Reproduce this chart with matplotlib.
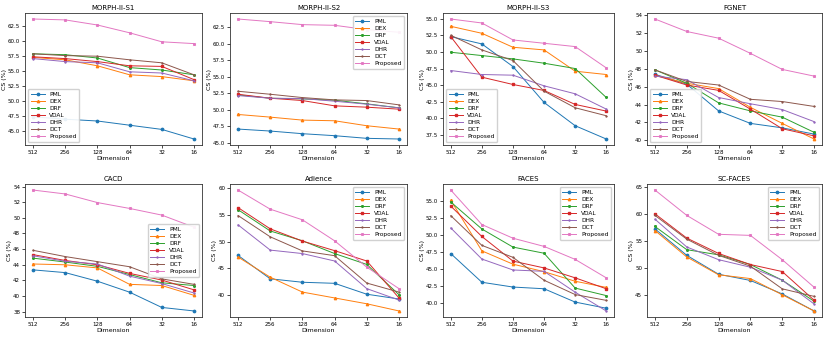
import numpy as np
import matplotlib
matplotlib.use('Agg')
import matplotlib.pyplot as plt

dims = ['512', '256', '128', '64', '32', '16']
methods = ['PML', 'DEX', 'DRF', 'VDAL', 'DHR', 'DCT', 'Proposed']
titles = ['MORPH-II-S1', 'MORPH-II-S2', 'MORPH-II-S3', 'FGNET',
          'CACD', 'Adience', 'FACES', 'SC-FACES']

# CS (%) per dataset, one row per method in the order of `methods`
morph_s1 = [[47.3, 46.9, 46.6, 45.9, 45.2, 43.6],
            [57.2, 56.8, 55.8, 54.3, 54.0, 53.3],
            [57.8, 57.65, 57.1, 55.5, 55.1, 54.3],
            [57.3, 57.0, 56.5, 55.8, 55.7, 53.5],
            [57.0, 56.5, 56.3, 54.8, 54.6, 53.3],
            [57.8, 57.5, 57.4, 56.8, 56.3, 54.3],
            [63.6, 63.45, 62.6, 61.3, 59.8, 59.5]]
morph_s2 = [[47.1, 46.8, 46.4, 46.1, 45.7, 45.6],
            [49.3, 48.9, 48.45, 48.35, 47.6, 47.1],
            [52.25, 51.75, 51.65, 51.45, 50.9, 50.3],
            [52.35, 51.75, 51.4, 50.6, 50.4, 50.1],
            [52.15, 51.75, 51.7, 51.3, 50.85, 50.3],
            [52.8, 52.35, 51.85, 51.5, 51.4, 50.75],
            [63.7, 63.3, 62.85, 62.75, 62.1, 61.7]]
morph_s3 = [[52.3, 51.2, 47.8, 42.4, 38.9, 36.9],
            [53.85, 52.8, 50.7, 50.3, 47.1, 46.6],
            [49.95, 49.45, 48.95, 48.3, 47.5, 43.15],
            [52.3, 46.2, 45.1, 44.2, 42.1, 41.1],
            [47.2, 46.6, 46.5, 44.9, 43.7, 41.4],
            [52.5, 50.3, 48.7, 44.1, 41.6, 40.4],
            [54.95, 54.35, 51.8, 51.3, 50.8, 47.6]]
fgnet = [[47.4, 46.3, 43.3, 41.9, 41.4, 40.7],
         [47.3, 46.4, 45.8, 43.7, 41.9, 40.15],
         [47.9, 46.4, 44.2, 43.3, 42.6, 40.9],
         [47.3, 46.2, 45.6, 43.5, 41.3, 40.5],
         [47.2, 46.8, 44.8, 44.1, 43.45, 42.1],
         [47.9, 46.6, 46.2, 44.6, 44.35, 43.8],
         [53.6, 52.2, 51.45, 49.75, 47.95, 47.2]]
cacd = [[43.35, 43.0, 41.9, 40.5, 38.55, 38.1],
        [44.1, 44.0, 43.6, 41.5, 41.35, 40.1],
        [44.85, 44.35, 43.8, 42.75, 41.7, 41.35],
        [45.3, 44.55, 44.0, 42.9, 42.05, 40.8],
        [45.15, 44.45, 44.1, 42.55, 41.6, 40.4],
        [45.85, 45.05, 44.4, 43.75, 42.2, 41.5],
        [53.55, 53.05, 51.95, 51.2, 50.35, 48.8]]
adience = [[47.4, 43.0, 42.35, 42.15, 40.1, 39.2],
           [47.1, 43.3, 40.5, 39.4, 38.3, 36.95],
           [56.0, 52.0, 50.15, 47.75, 45.7, 40.0],
           [56.4, 52.4, 50.1, 48.3, 46.35, 39.4],
           [53.15, 48.4, 47.75, 46.35, 41.15, 39.0],
           [54.9, 50.9, 48.25, 47.35, 42.2, 40.5],
           [59.7, 56.1, 54.1, 50.15, 45.2, 41.15]]
faces = [[47.25, 43.05, 42.35, 42.1, 40.15, 39.25],
         [55.05, 47.65, 45.7, 44.6, 43.2, 42.3],
         [54.8, 50.85, 48.2, 47.3, 42.2, 41.1],
         [54.2, 49.75, 46.15, 45.15, 43.7, 42.1],
         [51.0, 46.45, 44.85, 44.65, 41.6, 38.85],
         [52.8, 48.45, 46.7, 43.35, 41.25, 40.4],
         [56.55, 51.5, 49.5, 48.3, 46.4, 43.7]]
sc_faces = [[57.3, 52.4, 48.9, 47.75, 45.25, 42.1],
            [57.0, 52.1, 48.8, 48.1, 45.1, 42.1],
            [57.75, 53.45, 52.5, 50.7, 47.8, 43.9],
            [60.1, 55.6, 52.75, 50.7, 49.4, 44.1],
            [59.1, 53.95, 51.6, 50.2, 47.8, 43.4],
            [59.8, 55.4, 52.4, 50.4, 46.2, 44.8],
            [64.5, 59.8, 56.3, 56.1, 51.6, 46.5]]

all_data = [morph_s1, morph_s2, morph_s3, fgnet, cacd, adience, faces, sc_faces]

colors = ['#1f77b4', '#ff7f0e', '#2ca02c', '#d62728', '#9467bd', '#8c564b', '#e377c2']
markers = ['o', '^', '*', 's', '+', '4', 'x']
yticks = [np.arange(45, 63, 2.5), np.arange(45, 63, 2.5), np.arange(37.5, 55.1, 2.5),
          np.arange(40, 55, 2), np.arange(38, 55, 2), np.arange(40, 61, 5),
          np.arange(40, 55.1, 2.5), np.arange(45, 66, 5)]
legend_loc = ['lower left', 'upper right', 'lower left', 'lower left',
              'center right', 'upper right', 'upper right', 'upper right']

W, H = 830.0, 342.0
# axes boxes in pixels: left, right
cols = [(25, 202), (230, 407), (443, 614), (647, 822)]
rows = [(13, 145), (184, 317)]

fig = plt.figure(figsize=(8.3, 3.42), dpi=100)
x = np.arange(len(dims))
for k in range(8):
    r, c = k // 4, k % 4
    l, rr = cols[c]
    t, b = rows[r]
    ax = fig.add_axes([l / W, 1 - b / H, (rr - l) / W, (b - t) / H])
    for i in range(len(methods)):
        ax.plot(x, all_data[k][i], color=colors[i], marker=markers[i],
                markersize=1.7, linewidth=0.7, label=methods[i])
    ax.set_xticks(x)
    ax.set_xticklabels(dims)
    ax.set_yticks(yticks[k])
    ax.tick_params(labelsize=4, length=2, width=0.5, pad=1.5)
    ax.set_title(titles[k], fontsize=5, pad=2.5)
    ax.set_xlabel('Dimension', fontsize=4.5, labelpad=0.5)
    ax.set_ylabel('CS (%)', fontsize=4.5, labelpad=1)
    for s in ax.spines.values():
        s.set_linewidth(0.6)
        s.set_color('#333333')
    ax.legend(loc=legend_loc[k], fontsize=4.2, handlelength=2.4,
              borderpad=0.45, labelspacing=0.35, framealpha=0.9)

fig.savefig('out.png', dpi=100)
